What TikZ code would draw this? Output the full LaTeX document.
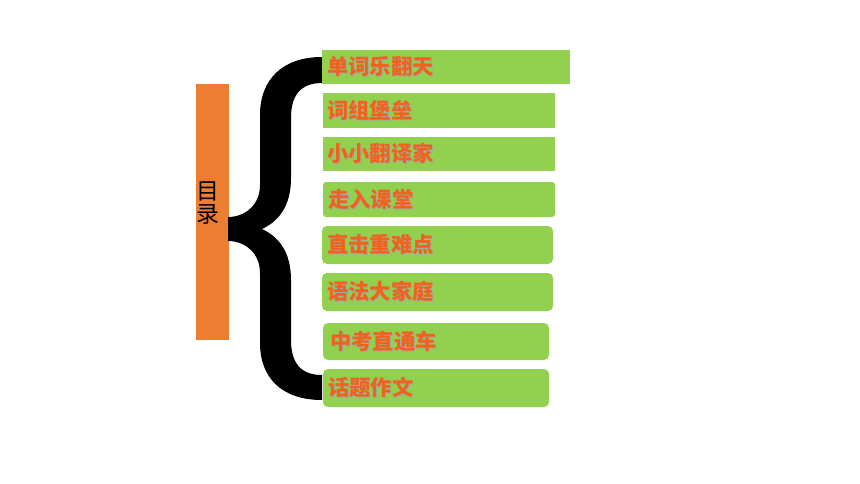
\documentclass[tikz,border=0pt]{standalone}
\usepackage{fontspec}
\newfontfamily\cjk{Noto Sans CJK SC}
\usepackage{tikz}
\usetikzlibrary{positioning}

\definecolor{barorange}{RGB}{237,125,49}
\definecolor{cardgreen}{RGB}{146,208,80}
\definecolor{labelorange}{RGB}{238,100,30}

% orange label with a soft grey shadow
\newcommand{\shadowed}[1]{\rlap{\textcolor{black!35}{\kern0.6pt\raisebox{-0.6pt}{#1}}}#1}

\begin{document}
\begin{tikzpicture}[x=0.02cm, y=-0.02cm,
    card/.style={fill=cardgreen},
    roundcard/.style={fill=cardgreen, rounded corners=1mm},
    cardtext/.style={anchor=west, inner sep=0pt, text=labelorange,
      font=\cjk\bfseries\fontsize{12.1}{14}\selectfont}]
  \useasboundingbox (0,0) rectangle (860,484);

  % left bar
  \fill[barorange] (196,84) rectangle (229,340);
  \node[align=center, inner sep=0pt, font=\cjk\fontsize{13}{13}\selectfont] (title) at (208,203) {目\\录};

  % big brace
  \fill[black] (322,57) .. controls (282,57) and (260,80) .. (260,115)
    -- (260,185) .. controls (260,205) and (245,217) .. (228,217)
    -- (228,241) .. controls (245,241) and (260,253) .. (260,273)
    -- (260,343) .. controls (260,378) and (282,400) .. (322,400)
    -- (322,375) .. controls (300,375) and (291,362) .. (291,340)
    -- (291,280) .. controls (291,250) and (277,236) .. (262,229)
    .. controls (277,222) and (291,208) .. (291,178)
    -- (291,118) .. controls (291,96) and (300,83) .. (322,83) -- cycle;

  % cards
  \fill[card] (322,50) rectangle (570,84);
  \node[cardtext] (words) at (327,67) {\shadowed{单词乐翻天}};
  \fill[card] (323,93) rectangle (555,128);
  \node[cardtext] (phrases) at (327,110.5) {\shadowed{词组堡垒}};
  \fill[card] (323,137) rectangle (555,171);
  \node[cardtext] (translate) at (327,154) {\shadowed{小小翻译家}};
  \fill[fill=cardgreen, rounded corners=0.6mm] (323,182) rectangle (555,217);
  \node[cardtext] (classroom) at (328,199.5) {\shadowed{走入课堂}};
  \fill[roundcard] (322,226) rectangle (553,264);
  \node[cardtext] (keypoints) at (327,245) {\shadowed{直击重难点}};
  \fill[roundcard] (322,273) rectangle (553,311);
  \node[cardtext] (grammar) at (327,292) {\shadowed{语法大家庭}};
  \fill[roundcard] (323,323) rectangle (549,360);
  \node[cardtext] (exam) at (330,341.5) {\shadowed{中考直通车}};
  \fill[roundcard] (323,369) rectangle (549,407);
  \node[cardtext] (writing) at (328,388) {\shadowed{话题作文}};
\end{tikzpicture}
\end{document}
